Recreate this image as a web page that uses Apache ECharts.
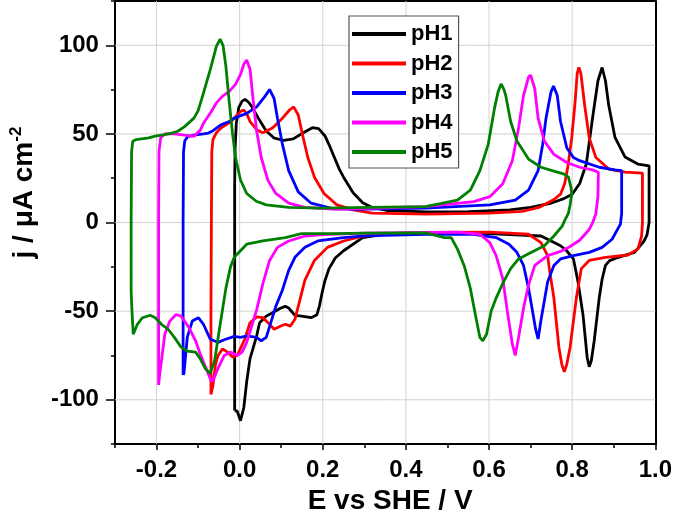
<!DOCTYPE html>
<html><head><meta charset="utf-8">
<script src="https://cdn.jsdelivr.net/npm/echarts@6/dist/echarts.min.js"></script>
<style>html,body{margin:0;padding:0;background:#fff}#c{width:675px;height:520px}</style>
</head><body><div id="c"></div>
<script>
const seriesNames = ['pH1','pH2','pH3','pH4','pH5'];
const seriesColors = ['#000000','#ff0000','#0000ff','#ff00ff','#008000'];
const xLabelValues = [-0.2,0,0.2,0.4,0.6,0.8,1.0];
const yLabelValues = [-100,-50,0,50,100];
const xGridValues = [-0.2,0,0.2,0.4,0.6,0.8];
const yGridValues = [-100,-50,0,50,100];
const X_MIN = -0.3, X_MAX = 1.0, Y_MIN = -125, Y_MAX = 125;

const pH1 = [
[-0.012,-106],[-0.012,-40],[-0.012,20],[-0.011,42],[-0.008,56],[-0.002,65],[0.006,68.5],[0.013,69.5],[0.021,68],[0.029,65.5],[0.045,58.9],[0.064,51.7],[0.082,47.8],[0.106,46.3],[0.129,47.2],[0.152,50.5],[0.175,53.5],[0.19,53],[0.205,49],[0.215,44],[0.226,37.8],[0.24,30],[0.25,25.6],[0.273,16.8],[0.296,11.2],[0.319,8.5],[0.354,6.8],[0.45,6],[0.55,6.2],[0.65,7.2],[0.7,8.6],[0.75,11],[0.78,13.5],[0.8,16],[0.818,22],[0.834,33],[0.849,59],[0.862,80],[0.872,87.5],[0.88,80],[0.888,66],[0.903,48],[0.927,37],[0.958,33],[0.985,32],
[0.985,0],[0.98,-7],[0.973,-10.4],[0.95,-16.8],[0.911,-19.6],[0.89,-21.5],[0.88,-24.2],[0.872,-32],[0.865,-42.6],[0.853,-66.7],[0.846,-78],[0.841,-81.4],[0.836,-76],[0.826,-52],[0.814,-33.4],[0.803,-20.5],[0.785,-15.5],[0.772,-13.1],[0.725,-7.6],[0.6,-6.3],[0.45,-6],[0.35,-6.5],[0.296,-8.5],[0.25,-15.9],[0.23,-20],[0.215,-26],[0.205,-33],[0.198,-40],[0.192,-47],[0.186,-52],[0.172,-53.7],[0.149,-52.8],[0.133,-52.4],[0.118,-48.2],[0.11,-47.3],[0.099,-48.2],[0.079,-50.9],[0.064,-52.8],[0.048,-56.5],[0.041,-63.9],[0.025,-76.8],[0.017,-89.7],[0.01,-104.5],[0.002,-111.8],[-0.006,-106.3],[-0.012,-106.3]
];
const pH2 = [
[-0.069,-97],[-0.069,-50],[-0.068,0],[-0.067,40],[-0.064,47],[-0.055,51],[-0.045,53.3],[-0.021,57],[0.002,62.6],[0.01,63.5],[0.018,61],[0.025,57],[0.041,52.4],[0.056,50.6],[0.079,53.3],[0.103,58.9],[0.12,63.5],[0.13,65.3],[0.141,60.7],[0.153,47.8],[0.164,36.7],[0.18,25.6],[0.203,16.4],[0.234,10],[0.273,7.2],[0.319,5.3],[0.45,4.8],[0.6,5.3],[0.68,6.3],[0.72,8.5],[0.756,13],[0.772,16],[0.782,22],[0.79,32],[0.799,48],[0.807,68],[0.812,84],[0.816,87.5],[0.821,84],[0.83,66.2],[0.841,47.8],[0.857,36.7],[0.888,30.2],[0.927,28.4],[0.969,27.9],
[0.969,0],[0.967,-7.6],[0.958,-15],[0.934,-18.3],[0.88,-19.6],[0.841,-21.4],[0.822,-26],[0.81,-42.6],[0.795,-70.3],[0.787,-80],[0.781,-84.2],[0.775,-80],[0.768,-70.3],[0.756,-42.6],[0.745,-26],[0.741,-18.7],[0.725,-11.3],[0.695,-6.6],[0.602,-5.4],[0.45,-5.5],[0.35,-6.2],[0.296,-7.6],[0.25,-10.4],[0.211,-14],[0.18,-21.4],[0.157,-32.5],[0.145,-43.6],[0.133,-54.6],[0.122,-58.4],[0.11,-57.4],[0.099,-58.4],[0.083,-60.2],[0.072,-57.4],[0.056,-53.7],[0.041,-53.2],[0.025,-56.5],[0.012,-66],[-0.006,-75],[-0.017,-75.9],[-0.029,-73.1],[-0.041,-71.3],[-0.052,-75],[-0.058,-80],[-0.064,-91.6],[-0.069,-97]
];
const pH3 = [
[-0.136,-86],[-0.136,-40],[-0.136,0],[-0.135,40],[-0.132,46],[-0.125,48.5],[-0.11,49.3],[-0.087,50],[-0.075,50.5],[-0.064,51.8],[-0.045,55.1],[-0.025,57],[-0.013,58.9],[0.017,61.6],[0.041,65.3],[0.06,70.9],[0.072,75.1],[0.083,69.9],[0.091,58.9],[0.103,44.1],[0.118,29.3],[0.141,17.3],[0.172,10.9],[0.219,8.1],[0.273,7.5],[0.447,8.1],[0.602,10],[0.663,12.7],[0.695,18.3],[0.718,29.3],[0.729,44.1],[0.737,58.9],[0.749,73.6],[0.755,77],[0.764,71.8],[0.772,57],[0.787,42.2],[0.803,36.7],[0.818,34.9],[0.865,31.2],[0.903,29.7],[0.919,29.3],
[0.919,5],[0.916,-1],[0.911,-3],[0.896,-9.4],[0.872,-14],[0.841,-16.8],[0.803,-18.7],[0.772,-20.5],[0.756,-24.2],[0.741,-33.4],[0.725,-55],[0.718,-65.7],[0.712,-60],[0.706,-51.9],[0.695,-37.1],[0.683,-24.2],[0.667,-16.8],[0.648,-12.2],[0.617,-8.5],[0.563,-6.6],[0.447,-6.6],[0.3,-7.5],[0.25,-8.5],[0.188,-10.4],[0.157,-14],[0.133,-19.6],[0.118,-27],[0.103,-38],[0.087,-47.3],[0.075,-56.5],[0.064,-64.8],[0.052,-66.7],[0.041,-64.8],[0.017,-63.9],[0.002,-64.8],[-0.013,-64.2],[-0.037,-66.1],[-0.052,-67.6],[-0.063,-66.5],[-0.071,-65.7],[-0.087,-57.4],[-0.099,-53.7],[-0.114,-55.6],[-0.126,-64.8],[-0.134,-85.1],[-0.136,-86]
];
const pH4 = [
[-0.195,-91.6],[-0.195,-40],[-0.195,0],[-0.194,40],[-0.19,47.8],[-0.18,50],[-0.157,50],[-0.133,49.3],[-0.11,48.7],[-0.095,52],[-0.087,56],[-0.07,62],[-0.056,67.5],[-0.04,71.5],[-0.025,74],[-0.01,78],[0.003,84],[0.01,89.3],[0.017,91.7],[0.025,86.5],[0.033,68.1],[0.041,51.5],[0.052,36.7],[0.068,23.8],[0.087,16.4],[0.118,10.9],[0.157,8.6],[0.234,7.5],[0.447,9],[0.563,11.8],[0.602,14.6],[0.633,21.9],[0.656,34.9],[0.671,53.3],[0.683,71.8],[0.695,82],[0.7,83.2],[0.71,75.5],[0.718,58.9],[0.733,46],[0.756,38.5],[0.787,33.9],[0.818,31.2],[0.849,29.7],[0.863,28.4],
[0.862,15],[0.857,5],[0.849,-0.2],[0.841,-3.9],[0.818,-10],[0.795,-13.5],[0.772,-16.3],[0.741,-18.7],[0.71,-24.2],[0.695,-35.3],[0.683,-48.2],[0.671,-64.8],[0.663,-75],[0.656,-68.5],[0.644,-50],[0.633,-31.6],[0.617,-18.7],[0.602,-11.3],[0.578,-6.6],[0.524,-5.4],[0.3,-6],[0.2,-6.8],[0.157,-7.6],[0.118,-10.4],[0.091,-14],[0.072,-21.4],[0.056,-34.3],[0.041,-49.1],[0.029,-58.4],[0.017,-67.6],[0.006,-73.1],[-0.006,-75],[-0.021,-73.1],[-0.037,-75],[-0.052,-82.3],[-0.062,-88],[-0.068,-89.7],[-0.079,-83.3],[-0.095,-74],[-0.106,-66.7],[-0.122,-59.2],[-0.141,-52.8],[-0.153,-51.9],[-0.168,-55.6],[-0.18,-63],[-0.192,-85.1],[-0.195,-91.6]
];
const pH5 = [
[-0.261,-39],[-0.261,0],[-0.26,40],[-0.257,45.9],[-0.249,46.8],[-0.219,47.8],[-0.203,48.7],[-0.18,49.6],[-0.164,50.5],[-0.149,51.5],[-0.133,54],[-0.11,58.9],[-0.1,63],[-0.091,69.9],[-0.071,86],[-0.056,99.4],[-0.047,103.5],[-0.04,100],[-0.033,88],[-0.025,68],[-0.017,50],[-0.01,37],[0.002,24],[0.017,16.4],[0.04,12],[0.064,10],[0.118,8.6],[0.195,8.1],[0.311,8.6],[0.447,9],[0.524,12.7],[0.555,18.3],[0.578,29.3],[0.598,44.1],[0.613,64.4],[0.622,74],[0.629,78.2],[0.636,75],[0.64,71.8],[0.652,57],[0.667,46],[0.695,35.8],[0.725,31.2],[0.756,29],[0.779,27.5],[0.791,25.6],[0.797,20],
[0.799,16.4],[0.795,10],[0.791,5.3],[0.783,1.7],[0.776,-2],[0.756,-7.6],[0.733,-13.1],[0.702,-16.8],[0.671,-20.5],[0.652,-26],[0.633,-34.3],[0.617,-42.6],[0.605,-50],[0.594,-63],[0.585,-66.7],[0.578,-64.8],[0.567,-51.9],[0.555,-37.1],[0.54,-24.2],[0.524,-15],[0.509,-8.5],[0.493,-8.5],[0.447,-5.8],[0.3,-6],[0.234,-6.3],[0.149,-6.3],[0.11,-8.5],[0.056,-10.4],[0.017,-12.2],[-0.013,-19.6],[-0.022,-25],[-0.033,-37],[-0.048,-59.2],[-0.06,-77.7],[-0.071,-85.1],[-0.083,-82.3],[-0.095,-76.8],[-0.106,-73.1],[-0.126,-72.5],[-0.141,-70.3],[-0.157,-64.8],[-0.172,-60.2],[-0.188,-57.4],[-0.203,-53.7],[-0.215,-52.3],[-0.234,-53.7],[-0.246,-57.4],[-0.256,-63],[-0.259,-50],[-0.261,-39]
];
const seriesData = [pH1, pH2, pH3, pH4, pH5];

const FONT = '"Liberation Sans", Arial, sans-serif';
const chart = echarts.init(document.getElementById('c'), null, {renderer: 'canvas'});

const gridSeries = xGridValues.map(v => [[v, Y_MIN], [v, Y_MAX]])
  .concat(yGridValues.map(v => [[X_MIN, v], [X_MAX, v]]))
  .map((pts, i) => ({
    name: 'grid' + i,
    type: 'line',
    data: pts,
    showSymbol: false,
    symbol: 'none',
    silent: true,
    lineStyle: {width: 1, color: '#d2d2d2', type: 'solid'},
    emphasis: {disabled: true},
    z: 1
  }));

const dataSeries = seriesNames.map((name, i) => ({
  name: name,
  type: 'line',
  data: seriesData[i],
  color: seriesColors[i],
  showSymbol: false,
  symbol: 'none',
  lineStyle: {width: 2.8, color: seriesColors[i]},
  itemStyle: {color: seriesColors[i]},
  emphasis: {disabled: true},
  z: 2 + i
}));

const frameAxis = {
  type: 'value', min: X_MIN, max: X_MAX, interval: 0.1, offset: 0,
  axisLine: {show: true, onZero: false, lineStyle: {color: '#000', width: 2}},
  axisTick: {show: false}, axisLabel: {show: false}, splitLine: {show: false}
};

const option = {
  animation: false,
  backgroundColor: '#fff',
  textStyle: {fontFamily: FONT},
  grid: {left: 98, right: 17, top: 1, bottom: 68, show: false},
  legend: {
    data: seriesNames, orient: 'vertical', left: 349, top: 16,
    padding: [7, 6, 5, 3], itemGap: 7.5, itemWidth: 54, itemHeight: 4, icon: 'rect',
    backgroundColor: '#fff', borderColor: '#555', borderWidth: 1.2,
    selectedMode: false,
    textStyle: {fontSize: 22, fontWeight: 'bold', color: '#000', fontFamily: FONT, lineHeight: 22}
  },
  xAxis: [{
    type: 'value', min: X_MIN, max: X_MAX, interval: 0.1, position: 'bottom',
    axisLine: {show: true, onZero: false, lineStyle: {color: '#000', width: 2}},
    axisTick: {show: true, length: 4, lineStyle: {color: '#000', width: 1.5}},
    axisLabel: {show: true, margin: 14, fontSize: 24, fontWeight: 'bold', color: '#000', fontFamily: FONT,
      showMinLabel: true, showMaxLabel: true,
      formatter: v => { const k = Math.round(v * 10); return (k % 2 === 0) ? (k / 10).toFixed(1) : ''; }},
    splitLine: {show: false},
    name: 'E vs SHE / V', nameLocation: 'middle', nameGap: 33,
    nameTextStyle: {fontSize: 28, fontWeight: 'bold', color: '#000', fontFamily: FONT, padding: [0, 0, 0, 10]}
  }, {
    type: 'value', min: X_MIN, max: X_MAX, interval: 0.1, position: 'bottom', offset: 0,
    axisLine: {show: false, onZero: false},
    axisTick: {show: true, length: 6, customValues: xLabelValues, lineStyle: {color: '#000', width: 1.5}},
    axisLabel: {show: false}, splitLine: {show: false}
  }, Object.assign({}, frameAxis, {position: 'top'})],
  yAxis: [{
    type: 'value', min: Y_MIN, max: Y_MAX, interval: 25, position: 'left',
    axisLine: {show: true, onZero: false, lineStyle: {color: '#000', width: 2}},
    axisTick: {show: true, length: 4, lineStyle: {color: '#000', width: 1.5}},
    axisLabel: {show: true, margin: 16, fontSize: 24, fontWeight: 'bold', color: '#000', fontFamily: FONT,
      showMinLabel: true, showMaxLabel: true,
      formatter: v => { const r = Math.round(v); return (r % 50 === 0) ? String(r) : ''; }},
    splitLine: {show: false},
    name: 'j / μA cm{sup|-2}', nameLocation: 'middle', nameGap: 66,
    nameTextStyle: {fontSize: 28, fontWeight: 'bold', color: '#000', fontFamily: FONT, lineHeight: 32,
      padding: [0, 0, 0, 60],
      rich: {sup: {fontSize: 17, fontWeight: 'bold', color: '#000', fontFamily: FONT, verticalAlign: 'top', lineHeight: 17}}}
  }, {
    type: 'value', min: Y_MIN, max: Y_MAX, interval: 25, position: 'left', offset: 0,
    axisLine: {show: false, onZero: false},
    axisTick: {show: true, length: 9, customValues: yLabelValues, lineStyle: {color: '#000', width: 1.5}},
    axisLabel: {show: false}, splitLine: {show: false}
  }, Object.assign({}, frameAxis, {min: Y_MIN, max: Y_MAX, interval: 25, position: 'right'})],
  series: gridSeries.concat(dataSeries)
};
chart.setOption(option);
</script>
</body></html>
